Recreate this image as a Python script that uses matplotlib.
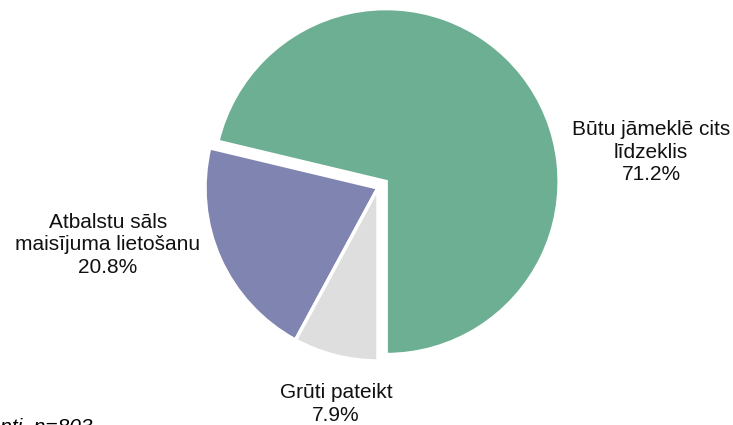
import matplotlib.pyplot as plt

plt.rcParams['font.family'] = ['Liberation Sans', 'DejaVu Sans']

# Survey answers
labels = ["Būtu jāmeklē cits\nlīdzeklis", "Atbalstu sāls\nmaisījuma lietošanu", "Grūti pateikt"]
shares = [71.2, 20.8, 7.9]
colors = ["#6daf93", "#8084b0", "#dedede"]
explode = [0.06, 0, 0]
note = "Visi respondenti, n=803"

W, H = 733, 425
R = 173  # pie radius in pixels
cx, cy = 378, 188  # pie centre in pixels (from top-left)

fig = plt.figure(figsize=(W / 100, H / 100), dpi=100)
ax = fig.add_axes([0, 0, 1, 1])
ax.pie(shares, colors=colors, explode=explode, startangle=-90, counterclock=True,
       wedgeprops=dict(edgecolor="white", linewidth=2.5))
ax.set_xlim(-cx / R, (W - cx) / R)
ax.set_ylim(-(H - cy) / R, cy / R)
ax.set_aspect("equal")
ax.axis("off")

# label positions in pixels
label_pos = [(651, 152), (108, 245), (336, 404)]
for lab, val, (px, py) in zip(labels, shares, label_pos):
    ax.text((px - cx) / R, (cy - py) / R, f"{lab}\n{val:.1f}%", ha="center", va="center",
            fontsize=15, color="#111111", linespacing=1.25)

fig.text(92 / W, -8 / H, note, ha="right", va="baseline", fontsize=15, style="italic")

fig.savefig("out.png", dpi=100)
